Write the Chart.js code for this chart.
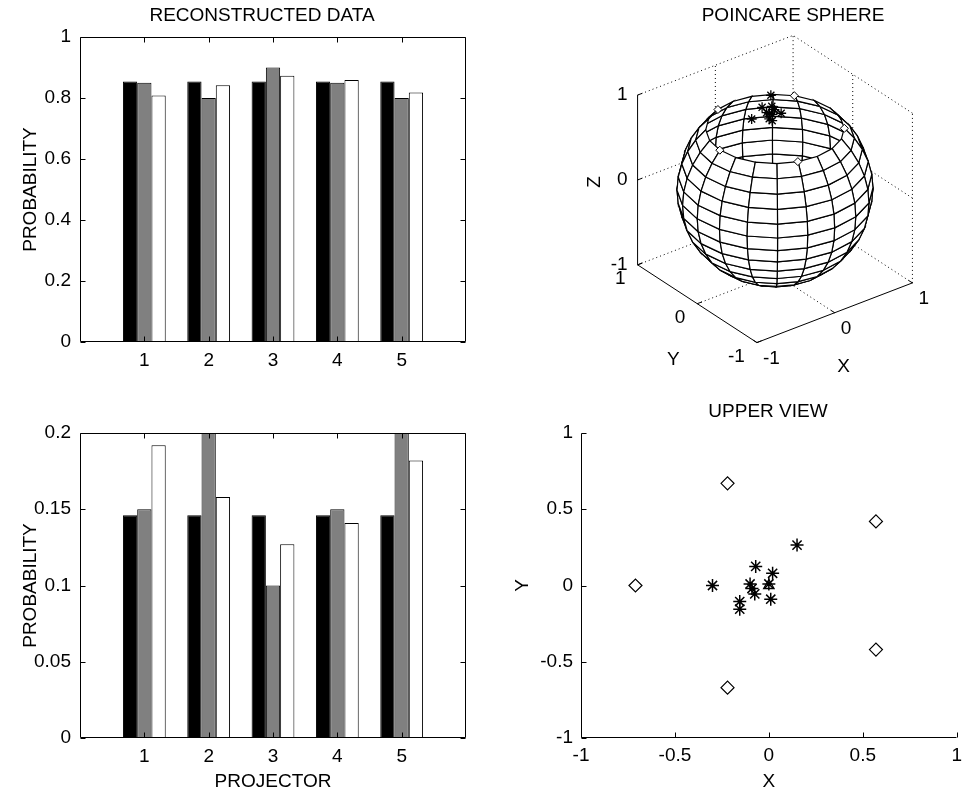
<!DOCTYPE html>
<html>
<head>
<meta charset="utf-8">
<script src="https://cdn.jsdelivr.net/npm/chart.js@4.4.1/dist/chart.umd.min.js"></script>
<style>
    html, body { margin: 0; padding: 0; background: #fff; }
    body { width: 968px; height: 795px; position: relative; overflow: hidden; }
    canvas { position: absolute; }
</style>
</head>
<body>
<canvas id="reconChart" width="484" height="400" style="left:0;top:0"></canvas>
<canvas id="sphereChart" width="484" height="400" style="left:484px;top:0"></canvas>
<canvas id="residualChart" width="484" height="395" style="left:0;top:400px"></canvas>
<canvas id="upperChart" width="484" height="395" style="left:484px;top:400px"></canvas>
<script>
// Bar data (top: reconstructed, bottom: complementary probabilities)
const projectors = [1, 2, 3, 4, 5];
const blackTop = [0.854, 0.854, 0.854, 0.854, 0.854];
const grayTop = [0.85, 0.80, 0.90, 0.85, 0.80];
const whiteTop = [0.808, 0.842, 0.873, 0.859, 0.818];
const blackBottom = [0.146, 0.146, 0.146, 0.146, 0.146];
const grayBottom = [0.15, 0.20, 0.10, 0.15, 0.20];
const whiteBottom = [0.192, 0.158, 0.127, 0.141, 0.182];

// Poincare sphere points
const starX = [-0.30, -0.07, 0.15, 0.02, -0.10, -0.09, -0.075, -0.155, -0.155, 0.01, 0.0];
const starY = [0.0, 0.125, 0.265, 0.08, 0.01, -0.02, -0.055, -0.105, -0.155, -0.09, 0.01];
const starZ = [0.93, 0.93, 0.93, 0.93, 0.93, 0.93, 0.93, 0.93, 0.93, 0.93, 0.93];
const diamondX = [-0.71, -0.22, -0.22, 0.57, 0.57];
const diamondY = [0.0, 0.67, -0.67, 0.42, -0.42];
const diamondZ = [0.707, 0.707, 0.707, 0.707, 0.707];
const triangleX = [0.0];
const triangleY = [0.0];
const triangleZ = [0.93];

// Tick labels
const topTicks = [0, 0.2, 0.4, 0.6, 0.8, 1];
const bottomTicks = [0, 0.05, 0.1, 0.15, 0.2];
const viewTicks = [-1, -0.5, 0, 0.5, 1];
const sphereTicks = [-1, 0, 1];

const FONT = "'Liberation Sans', Arial, sans-serif";
Chart.defaults.font.family = FONT;
Chart.defaults.font.size = 19;
Chart.defaults.color = "#000";
Chart.defaults.animation = false;
Chart.defaults.plugins.legend.display = false;
Chart.defaults.plugins.tooltip.enabled = false;

// 3D view (matlab default az/el)
const AZ = -37.5 * Math.PI / 180;
const EL = 30 * Math.PI / 180;

function project(x, y, z) {
    return {
        x: x * Math.cos(AZ) + y * Math.sin(AZ),
        y: -x * Math.sin(EL) * Math.sin(AZ) + y * Math.sin(EL) * Math.cos(AZ) + z * Math.cos(EL),
    };
}

function depth(x, y, z) {
    return x * Math.cos(EL) * Math.sin(AZ) - y * Math.cos(EL) * Math.cos(AZ) + z * Math.sin(EL);
}

// Box + inward ticks like matlab axes
const matlabAxes = {
    id: "matlabAxes",
    afterDatasetsDraw(chart, args, opts) {
        if (!opts.show) return;
        const { ctx, chartArea: a } = chart;
        const l = Math.round(a.left) + 0.5;
        const r = Math.round(a.right) - 0.5;
        const t = Math.round(a.top) + 0.5;
        const b = Math.round(a.bottom) - 0.5;
        const len = 5;
        ctx.save();
        ctx.strokeStyle = "#000";
        ctx.lineWidth = 1;
        ctx.beginPath();
        if (opts.box) {
            ctx.rect(l, t, r - l, b - t);
        } else {
            ctx.moveTo(l, t);
            ctx.lineTo(l, b);
            ctx.lineTo(r, b);
        }
        chart.scales.x.ticks.forEach((tk) => {
            const x = Math.round(chart.scales.x.getPixelForValue(tk.value)) + 0.5;
            ctx.moveTo(x, b);
            ctx.lineTo(x, b - len);
            if (opts.box) {
                ctx.moveTo(x, t);
                ctx.lineTo(x, t + len);
            }
        });
        chart.scales.y.ticks.forEach((tk) => {
            const y = Math.round(chart.scales.y.getPixelForValue(tk.value)) + 0.5;
            ctx.moveTo(l, y);
            ctx.lineTo(l + len, y);
            if (opts.box) {
                ctx.moveTo(r, y);
                ctx.lineTo(r - len, y);
            }
        });
        ctx.stroke();
        ctx.restore();
    },
};

const panelTitle = {
    id: "panelTitle",
    afterDraw(chart, args, opts) {
        if (!opts.text) return;
        const ctx = chart.ctx;
        ctx.save();
        ctx.font = "19px " + FONT;
        ctx.fillStyle = "#000";
        ctx.textAlign = "center";
        ctx.textBaseline = "middle";
        ctx.fillText(opts.text, opts.x, opts.y);
        ctx.restore();
    },
};

// Dotted back-wall grid and solid axes of the 3D box
const gridSegments = [
    [[0, -1, -1], [0, 1, -1]], [[1, -1, -1], [1, 1, -1]],
    [[-1, 0, -1], [1, 0, -1]], [[-1, 1, -1], [1, 1, -1]],
    [[1, -1, 0], [1, 1, 0]], [[1, -1, 1], [1, 1, 1]],
    [[1, -1, -1], [1, -1, 1]], [[1, 0, -1], [1, 0, 1]], [[1, 1, -1], [1, 1, 1]],
    [[-1, 1, 0], [1, 1, 0]], [[-1, 1, 1], [1, 1, 1]], [[0, 1, -1], [0, 1, 1]],
];
const axisSegments = [
    [[-1, 1, -1], [-1, 1, 1]],
    [[-1, 1, -1], [-1, -1, -1]],
    [[-1, -1, -1], [1, -1, -1]],
];

const sphereMesh = {
    id: "sphereMesh",
    beforeDatasetsDraw(chart, args, opts) {
        if (!opts.show) return;
        const ctx = chart.ctx;
        const sx = chart.scales.x;
        const sy = chart.scales.y;
        const px = (x, y, z) => {
            const p = project(x, y, z);
            return [sx.getPixelForValue(p.x), sy.getPixelForValue(p.y)];
        };
        const seg = (s) => {
            const p = px(...s[0]);
            const q = px(...s[1]);
            ctx.beginPath();
            ctx.moveTo(p[0], p[1]);
            ctx.lineTo(q[0], q[1]);
            ctx.stroke();
        };
        ctx.save();
        ctx.strokeStyle = "#000";
        ctx.lineWidth = 1;
        ctx.setLineDash([1, 3]);
        gridSegments.forEach(seg);
        ctx.setLineDash([]);
        axisSegments.forEach(seg);

        // small ticks on the three axes
        const tk = 0.06;
        sphereTicks.forEach((v) => {
            seg([[-1, 1, v], [-1 + tk, 1, v]]);
            seg([[-1, v, -1], [-1 + tk, v, -1]]);
            seg([[v, -1, -1], [v, -1 + tk, -1]]);
        });

        // tick labels and axis labels
        ctx.font = "19px " + FONT;
        ctx.fillStyle = "#000";
        ctx.textBaseline = "middle";
        sphereTicks.forEach((v) => {
            let p = px(-1, 1, v);
            ctx.textAlign = "right";
            ctx.fillText(String(v), p[0] - 10, p[1]);
            p = px(-1, v, -1);
            ctx.fillText(String(v), p[0] - 12, p[1] + 14);
            p = px(v, -1, -1);
            ctx.textAlign = "left";
            ctx.fillText(String(v), p[0] + 6, p[1] + 16);
        });
        ctx.textAlign = "center";
        let p = px(-1, 0, -1);
        ctx.fillText("Y", p[0] - 24, p[1] + 56);
        p = px(0, -1, -1);
        ctx.fillText("X", p[0] + 9, p[1] + 54);
        p = px(-1, 1, 0);
        ctx.save();
        ctx.translate(p[0] - 43, p[1] + 2);
        ctx.rotate(-Math.PI / 2);
        ctx.fillText("Z", 0, 0);
        ctx.restore();

        // sphere(20) mesh cut at 45 deg latitude, painter's order
        const nTh = 20;
        const faces = [];
        for (let i = 0; i < nTh; i++) {
            for (let j = 0; j < opts.bands; j++) {
                const th0 = -Math.PI + i * 2 * Math.PI / nTh;
                const th1 = th0 + 2 * Math.PI / nTh;
                const ph0 = -Math.PI / 2 + j * Math.PI / nTh;
                const ph1 = ph0 + Math.PI / nTh;
                const pts = [[th0, ph0], [th1, ph0], [th1, ph1], [th0, ph1]].map(([t, f]) => [
                    Math.cos(f) * Math.cos(t), Math.cos(f) * Math.sin(t), Math.sin(f),
                ]);
                const c = pts.reduce((s, q) => [s[0] + q[0] / 4, s[1] + q[1] / 4, s[2] + q[2] / 4], [0, 0, 0]);
                faces.push({ pts, d: depth(c[0], c[1], c[2]) });
            }
        }
        faces.sort((a, b) => a.d - b.d);
        ctx.fillStyle = "#fff";
        ctx.lineWidth = 1.2;
        faces.forEach((f) => {
            ctx.beginPath();
            f.pts.forEach((q, k) => {
                const s = px(q[0], q[1], q[2]);
                if (k === 0) ctx.moveTo(s[0], s[1]);
                else ctx.lineTo(s[0], s[1]);
            });
            ctx.closePath();
            ctx.fill();
            ctx.stroke();
        });
        ctx.restore();
    },
};

Chart.register(matlabAxes, panelTitle, sphereMesh);

function toPoints(xs, ys) {
    return xs.map((x, i) => ({ x: x, y: ys[i] }));
}

function toProjected(xs, ys, zs) {
    return xs.map((x, i) => project(x, ys[i], zs[i]));
}

function barDataset(values, color) {
    return {
        data: toPoints(projectors, values),
        backgroundColor: color,
        borderColor: "#000",
        borderWidth: 1,
        categoryPercentage: 0.665,
        barPercentage: 1.0,
    };
}

function barScales(yTicks, xTitle, height) {
    return {
        x: {
            type: "linear",
            min: 0,
            max: 6,
            offset: false,
            afterBuildTicks: (s) => { s.ticks = projectors.map((v) => ({ value: v })); },
            afterFit: (s) => { s.height = height; },
            grid: { display: false, drawTicks: false, offset: false },
            border: { display: false },
            ticks: { padding: 7, maxRotation: 0, autoSkip: false, callback: (v) => String(v) },
            title: { display: !!xTitle, text: xTitle, padding: { top: 0, bottom: 1.6 } },
        },
        y: {
            min: 0,
            max: yTicks[yTicks.length - 1],
            afterBuildTicks: (s) => { s.ticks = yTicks.map((v) => ({ value: v })); },
            afterFit: (s) => { s.width = 80; },
            grid: { display: false, drawTicks: false },
            border: { display: false },
            ticks: { padding: 9, autoSkip: false, callback: (v) => String(v) },
            title: { display: true, text: "PROBABILITY", padding: { top: 19.5, bottom: 0 } },
        },
    };
}

const reconChart = new Chart(document.getElementById("reconChart"), {
    type: "bar",
    data: {
        datasets: [
            barDataset(blackTop, "#000000"),
            barDataset(grayTop, "#808080"),
            barDataset(whiteTop, "#ffffff"),
        ],
    },
    options: {
        responsive: false,
        layout: { padding: { top: 37, right: 18, left: 0, bottom: 0 }, autoPadding: false },
        scales: barScales(topTicks, "", 58),
        plugins: {
            matlabAxes: { show: true, box: true },
            panelTitle: { text: "RECONSTRUCTED DATA", x: 262, y: 16 },
        },
    },
});

const residualChart = new Chart(document.getElementById("residualChart"), {
    type: "bar",
    data: {
        datasets: [
            barDataset(blackBottom, "#000000"),
            barDataset(grayBottom, "#808080"),
            barDataset(whiteBottom, "#ffffff"),
        ],
    },
    options: {
        responsive: false,
        layout: { padding: { top: 33, right: 18, left: 0, bottom: 0 }, autoPadding: false },
        scales: barScales(bottomTicks, "PROJECTOR", 57),
        plugins: {
            matlabAxes: { show: true, box: true },
        },
    },
});

// Poincare sphere, drawn in projected view units (98 px per unit)
const PX = 98, CX = 291, CY = 189;
const sphereChart = new Chart(document.getElementById("sphereChart"), {
    type: "scatter",
    data: {
        datasets: [
            {
                data: toProjected(starX, starY, starZ),
                pointStyle: "star",
                pointRadius: 5,
                borderColor: "#000",
                borderWidth: 1.3,
            },
            {
                data: toProjected(diamondX, diamondY, diamondZ),
                pointStyle: "rectRot",
                pointRadius: 4,
                backgroundColor: "#fff",
                borderColor: "#000",
                borderWidth: 1,
            },
            {
                data: toProjected(triangleX, triangleY, triangleZ),
                pointStyle: "triangle",
                pointRadius: 4,
                backgroundColor: "rgba(0,0,0,0)",
                borderColor: "#000",
                borderWidth: 1,
            },
        ],
    },
    options: {
        responsive: false,
        layout: { padding: 0, autoPadding: false },
        scales: {
            x: { type: "linear", display: false, min: -CX / PX, max: (484 - CX) / PX },
            y: { type: "linear", display: false, min: -(400 - CY) / PX, max: CY / PX },
        },
        plugins: {
            sphereMesh: { show: true, bands: 15 },
            panelTitle: { text: "POINCARE SPHERE", x: 309, y: 16 },
        },
    },
});

const upperChart = new Chart(document.getElementById("upperChart"), {
    type: "scatter",
    data: {
        datasets: [
            {
                data: toPoints(starX, starY),
                pointStyle: "star",
                pointRadius: 6.5,
                borderColor: "#000",
                borderWidth: 1.5,
            },
            {
                data: toPoints(diamondX, diamondY),
                pointStyle: "rectRot",
                pointRadius: 6.5,
                backgroundColor: "#fff",
                borderColor: "#000",
                borderWidth: 1.2,
            },
            {
                data: toPoints(triangleX, triangleY),
                pointStyle: "triangle",
                pointRadius: 6,
                backgroundColor: "rgba(0,0,0,0)",
                borderColor: "#000",
                borderWidth: 1.3,
            },
        ],
    },
    options: {
        responsive: false,
        layout: { padding: { top: 33, right: 2, left: 0, bottom: 0 }, autoPadding: false },
        scales: {
            x: {
                type: "linear",
                min: -1,
                max: 1,
                afterBuildTicks: (s) => { s.ticks = viewTicks.map((v) => ({ value: v })); },
                afterFit: (s) => { s.height = 57; },
                grid: { display: false, drawTicks: false },
                border: { display: false },
                ticks: { padding: 6, maxRotation: 0, autoSkip: false, callback: (v) => String(v) },
                title: { display: true, text: "X", padding: { top: 0, bottom: 1.9 } },
            },
            y: {
                type: "linear",
                min: -1,
                max: 1,
                afterBuildTicks: (s) => { s.ticks = viewTicks.map((v) => ({ value: v })); },
                afterFit: (s) => { s.width = 97; },
                grid: { display: false, drawTicks: false },
                border: { display: false },
                ticks: { padding: 8, autoSkip: false, callback: (v) => String(v) },
                title: { display: true, text: "Y", padding: { top: 27.6, bottom: 0 } },
            },
        },
        plugins: {
            matlabAxes: { show: true, box: false },
            panelTitle: { text: "UPPER VIEW", x: 284, y: 12 },
        },
    },
});
</script>
</body>
</html>
